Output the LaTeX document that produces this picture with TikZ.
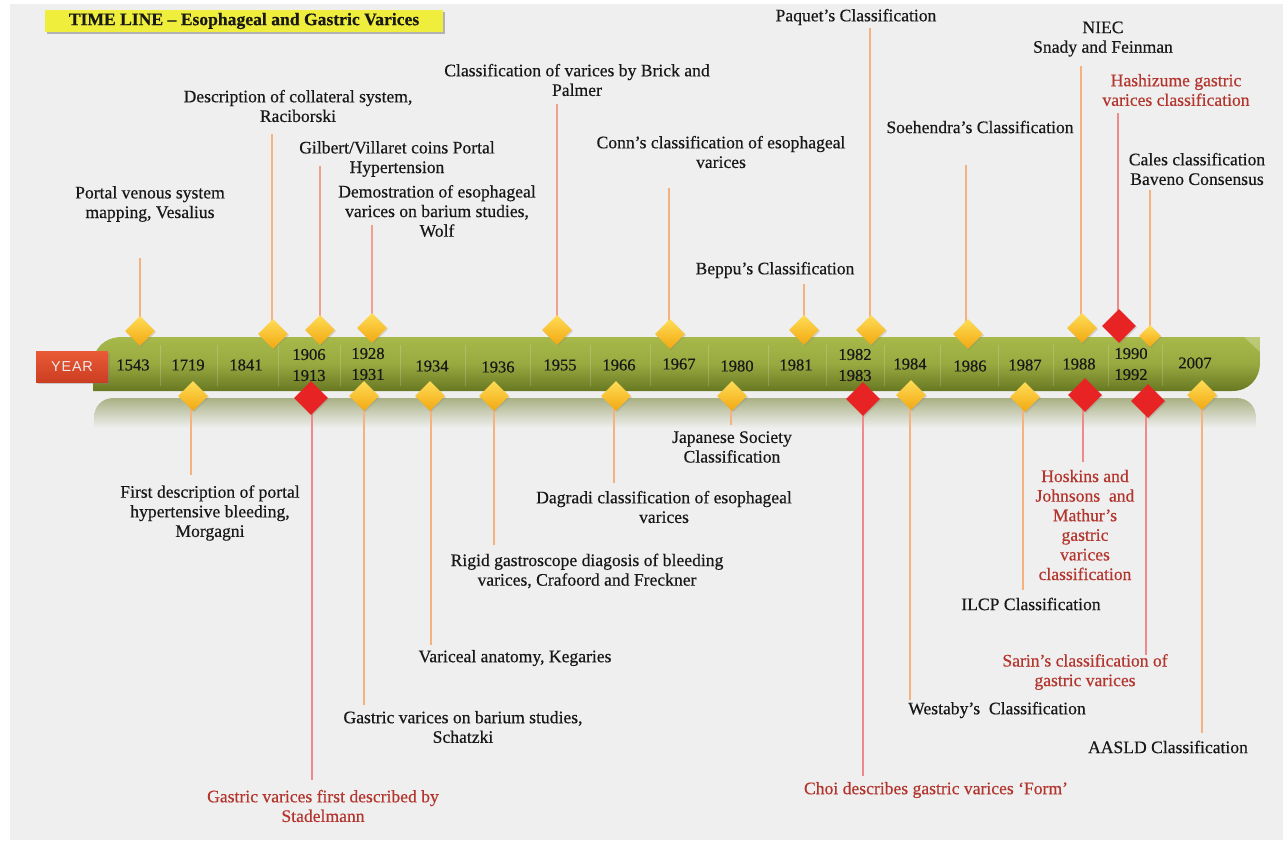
\documentclass[tikz,border=0pt]{standalone}
\usepackage{fontspec}
\setmainfont{Liberation Serif}[FakeBold=0.45]
\newfontfamily\yearsans{Liberation Sans}
\usetikzlibrary{shapes.geometric,shadows}
\definecolor{txt}{HTML}{181818}
\definecolor{redtxt}{HTML}{B3352D}
\definecolor{lor}{HTML}{F5B27E}
\definecolor{lpk}{HTML}{F08A8A}
\definecolor{lsal}{HTML}{F0A08C}
\definecolor{bartop}{HTML}{A8B94A}
\definecolor{barbot}{HTML}{687822}
\definecolor{ytop}{HTML}{FFDC55}
\definecolor{ybot}{HTML}{F2A812}
\definecolor{rdi}{HTML}{E82323}
\definecolor{yeartop}{HTML}{EA5A36}
\definecolor{yearbot}{HTML}{CC3E22}
\definecolor{bg}{HTML}{EFEFEF}
\definecolor{titley}{HTML}{F0EE3C}
\definecolor{refl}{HTML}{A9B184}
\tikzset{
  lab/.style={font=\fontsize{8.8}{9.8}\selectfont, text=txt, align=center, inner sep=0pt},
  redlab/.style={lab, text=redtxt},
  yr/.style={font=\fontsize{8.3}{10.5}\selectfont, text=txt, align=center, inner sep=0pt},
  ydia/.style={diamond, aspect=1, minimum size=15pt, inner sep=0pt, top color=ytop, bottom color=ybot, draw=none,
    drop shadow={opacity=0.25, shadow xshift=0.6pt, shadow yshift=-0.6pt}},
  ysmall/.style={ydia, minimum size=11pt},
  rdia/.style={diamond, aspect=1, minimum size=17pt, inner sep=0pt, fill=rdi, draw=none,
    drop shadow={opacity=0.25, shadow xshift=0.6pt, shadow yshift=-0.6pt}},
  oline/.style={draw=lor, line width=1pt},
  pline/.style={draw=lpk, line width=1pt},
  sline/.style={draw=lsal, line width=1pt},
  sep/.style={draw=white, opacity=0.18, line width=0.5pt}
}
\begin{document}
\begin{tikzpicture}[x=0.5pt, y=-0.5pt]
\useasboundingbox (0,0) rectangle (1286,842);
\fill[white] (0,0) rectangle (1286,842);
\fill[bg] (10,4) rectangle (1283,840);

% title
\node[fill=titley, minimum width=199pt, minimum height=11pt, inner sep=0pt,
  drop shadow={opacity=0.55, shadow xshift=1pt, shadow yshift=-1pt},
  font=\bfseries\fontsize{8.8}{10}\selectfont, text=txt] (title) at (244,21) {TIME LINE -- Esophageal and Gastric Varices};

% reflection band
\shade[top color=refl, bottom color=bg] (94,428) -- (94,418) .. controls (94,406) and (102,398) .. (114,398) -- (1236,398) .. controls (1248,398) and (1256,406) .. (1256,418) -- (1256,428) -- cycle;

% main bar
\shade[top color=bartop, bottom color=barbot, middle color=bartop!75!barbot] (93,391) -- (93,365) .. controls (93,349) and (104,337) .. (122,337) -- (1260,337) -- (1260,362) .. controls (1260,379) and (1249,391) .. (1232,391) -- cycle;
\fill[white, opacity=0.25] (1244,337) -- (1260,337) -- (1260,352) -- cycle;

% separators
\foreach \sx in {160,217,278,340,400,465,530,590,650,708,768,826,884,940,998,1053,1108,1162}
  \draw[sep] (\sx,345) -- (\sx,386);

% YEAR box
\node[top color=yeartop, bottom color=yearbot, minimum width=36pt, minimum height=15.5pt, inner sep=0pt,
  drop shadow={opacity=0.35, shadow xshift=0.8pt, shadow yshift=-0.8pt},
  font=\yearsans\fontsize{7.2}{8}\selectfont, text=white!92!black] (year) at (72,366.5) {Y\kern0.4pt E\kern0.4pt A\kern0.4pt R};

% years
\node[yr] (y1543) at (133,365) {1543};
\node[yr] (y1719) at (188,365) {1719};
\node[yr] (y1841) at (246,365) {1841};
\node[yr] (y1906) at (309,365) {1906\\1913};
\node[yr] (y1928) at (368,364) {1928\\1931};
\node[yr] (y1934) at (432,366) {1934};
\node[yr] (y1936) at (498,367) {1936};
\node[yr] (y1955) at (560,365) {1955};
\node[yr] (y1966) at (619,365) {1966};
\node[yr] (y1967) at (679,364) {1967};
\node[yr] (y1980) at (737,366) {1980};
\node[yr] (y1981) at (796,365) {1981};
\node[yr] (y1982) at (855,365) {1982\\1983};
\node[yr] (y1984) at (910,364) {1984};
\node[yr] (y1986) at (970,366) {1986};
\node[yr] (y1987) at (1025,365) {1987};
\node[yr] (y1988) at (1079,364) {1988};
\node[yr] (y1990) at (1131,364) {1990\\1992};
\node[yr] (y2007) at (1195,363) {2007};

% free ends of connectors
\coordinate (eA) at (140,258);
\coordinate (eB) at (272,134);
\coordinate (eC) at (320,166);
\coordinate (eD) at (372,225);
\coordinate (eE) at (557,104);
\coordinate (eF) at (669,188);
\coordinate (eG) at (804,284);
\coordinate (eH) at (870,28);
\coordinate (eI) at (966,165);
\coordinate (eJ) at (1081,66);
\coordinate (eK) at (1118,113);
\coordinate (eL) at (1150,190);
\coordinate (fA) at (191,475);
\coordinate (fB) at (312,780);
\coordinate (fC) at (364,705);
\coordinate (fD) at (431,645);
\coordinate (fE) at (494,545);
\coordinate (fF) at (614,483);
\coordinate (fG) at (731,425);
\coordinate (fH) at (863,776);
\coordinate (fI) at (910,700);
\coordinate (fJ) at (1023,590);
\coordinate (fK) at (1083,462);
\coordinate (fL) at (1146,655);
\coordinate (fM) at (1202,733);

% diamond positions
\coordinate (pA) at (140,331);
\coordinate (pB) at (273,334);
\coordinate (pC) at (320,330);
\coordinate (pD) at (372,328);
\coordinate (pE) at (557,330);
\coordinate (pF) at (670,334);
\coordinate (pG) at (804,330);
\coordinate (pH) at (871,330);
\coordinate (pI) at (968,334);
\coordinate (pJ) at (1082,328);
\coordinate (pK) at (1119,326);
\coordinate (pL) at (1150,336);
\coordinate (qA) at (193,396);
\coordinate (qB) at (311,398);
\coordinate (qC) at (364,396);
\coordinate (qD) at (430,396);
\coordinate (qE) at (494,396);
\coordinate (qF) at (616,396);
\coordinate (qG) at (732,396);
\coordinate (qH) at (863,399);
\coordinate (qI) at (911,395);
\coordinate (qJ) at (1025,397);
\coordinate (qK) at (1085,395);
\coordinate (qL) at (1148,401);
\coordinate (qM) at (1202,395);

% connectors
\draw[oline] (eA) -- (eA |- pA);
\draw[oline] (eB) -- (eB |- pB);
\draw[sline] (eC) -- (eC |- pC);
\draw[sline] (eD) -- (eD |- pD);
\draw[sline] (eE) -- (eE |- pE);
\draw[oline] (eF) -- (eF |- pF);
\draw[oline] (eG) -- (eG |- pG);
\draw[oline] (eH) -- (eH |- pH);
\draw[oline] (eI) -- (eI |- pI);
\draw[oline] (eJ) -- (eJ |- pJ);
\draw[pline] (eK) -- (eK |- pK);
\draw[oline] (eL) -- (eL |- pL);
\draw[oline] (fA) -- (fA |- qA);
\draw[pline] (fB) -- (fB |- qB);
\draw[oline] (fC) -- (fC |- qC);
\draw[oline] (fD) -- (fD |- qD);
\draw[oline] (fE) -- (fE |- qE);
\draw[oline] (fF) -- (fF |- qF);
\draw[oline] (fG) -- (fG |- qG);
\draw[pline] (fH) -- (fH |- qH);
\draw[oline] (fI) -- (fI |- qI);
\draw[oline] (fJ) -- (fJ |- qJ);
\draw[pline] (fK) -- (fK |- qK);
\draw[pline] (fL) -- (fL |- qL);
\draw[oline] (fM) -- (fM |- qM);

% diamonds
\node[ydia] (dA) at (pA) {};
\node[ydia] (dB) at (pB) {};
\node[ydia] (dC) at (pC) {};
\node[ydia] (dD) at (pD) {};
\node[ydia] (dE) at (pE) {};
\node[ydia] (dF) at (pF) {};
\node[ydia] (dG) at (pG) {};
\node[ydia] (dH) at (pH) {};
\node[ydia] (dI) at (pI) {};
\node[ydia] (dJ) at (pJ) {};
\node[rdia] (dK) at (pK) {};
\node[ysmall] (dL) at (pL) {};
\node[ydia] (bA) at (qA) {};
\node[rdia] (bB) at (qB) {};
\node[ydia] (bC) at (qC) {};
\node[ydia] (bD) at (qD) {};
\node[ydia] (bE) at (qE) {};
\node[ydia] (bF) at (qF) {};
\node[ydia] (bG) at (qG) {};
\node[rdia] (bH) at (qH) {};
\node[ydia] (bI) at (qI) {};
\node[ydia] (bJ) at (qJ) {};
\node[rdia] (bK) at (qK) {};
\node[rdia] (bL) at (qL) {};
\node[ydia] (bM) at (qM) {};

% labels above
\node[lab] (lA) at (150,204) {Portal venous system\\mapping, Vesalius};
\node[lab] (lB) at (298,106) {Description of collateral system,\\Raciborski};
\node[lab] (lC) at (397,159) {Gilbert/Villaret coins Portal\\Hypertension};
\node[lab] (lD) at (437,211) {Demostration of esophageal\\varices on barium studies,\\Wolf};
\node[lab] (lE) at (577,80) {Classification of varices by Brick and\\Palmer};
\node[lab] (lF) at (721,152) {Conn’s classification of esophageal\\varices};
\node[lab] (lG) at (775,270) {Beppu’s Classification};
\node[lab] (lH) at (856,17) {Paquet’s Classification};
\node[lab] (lI) at (980,127) {Soehendra’s Classification};
\node[lab] (lJ) at (1103,39) {NIEC\\Snady and Feinman};
\node[redlab] (lK) at (1176,90) {Hashizume gastric\\varices classification};
\node[lab] (lL) at (1197,169) {Cales classification\\Baveno Consensus};

% labels below
\node[lab] (mA) at (210,513) {First description of portal\\hypertensive bleeding,\\Morgagni};
\node[redlab] (mB) at (323,806) {Gastric varices first described by\\Stadelmann};
\node[lab] (mC) at (463,727) {Gastric varices on barium studies,\\Schatzki};
\node[lab] (mD) at (515,658) {Variceal anatomy, Kegaries};
\node[lab] (mE) at (587,571) {Rigid gastroscope diagosis of bleeding\\varices, Crafoord and Freckner};
\node[lab] (mF) at (664,507) {Dagradi classification of esophageal\\varices};
\node[lab] (mG) at (732,447) {Japanese Society\\Classification};
\node[redlab] (mH) at (936,790) {Choi describes gastric varices ‘Form’};
\node[lab] (mI) at (997,710) {Westaby’s\enspace Classification};
\node[lab] (mJ) at (1031,604) {ILCP Classification};
\node[redlab] (mK) at (1085,525) {Hoskins and\\Johnsons\enspace and\\Mathur’s\\gastric\\varices\\classification};
\node[redlab] (mL) at (1085,672) {Sarin’s classification of\\gastric varices};
\node[lab] (mM) at (1168,747) {AASLD Classification};
\end{tikzpicture}
\end{document}
